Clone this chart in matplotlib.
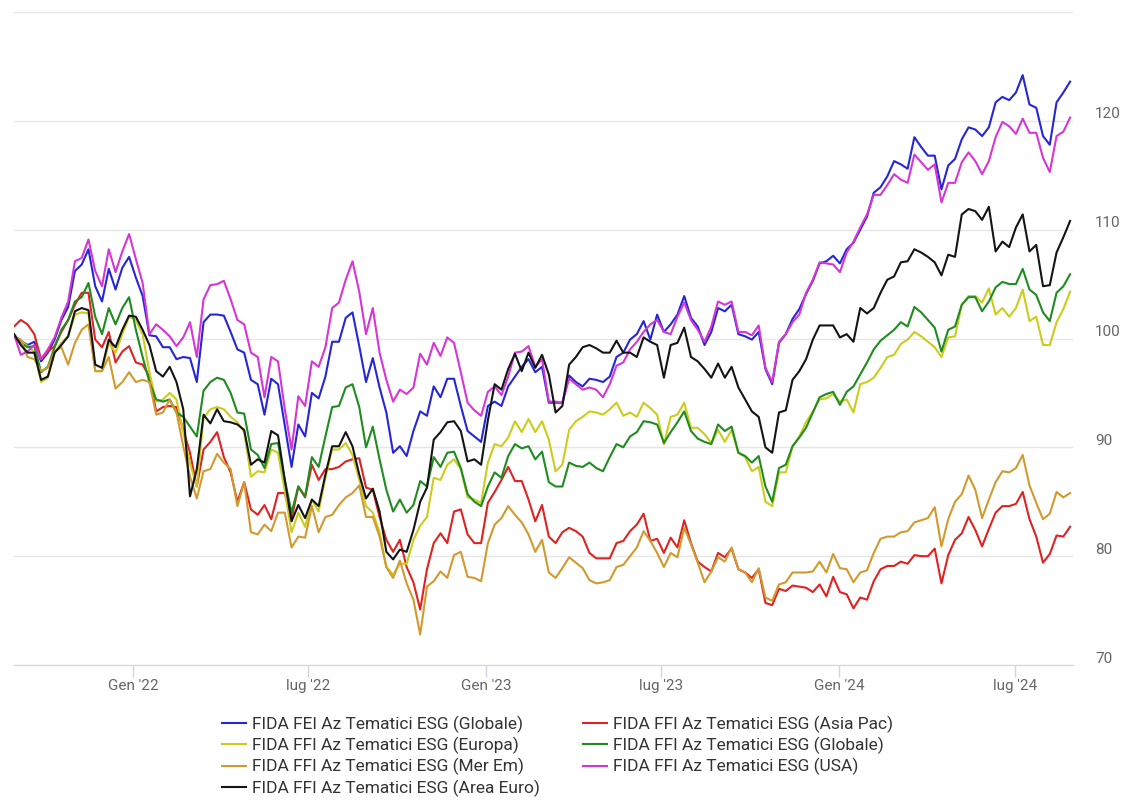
import matplotlib
matplotlib.use('Agg')
import matplotlib.pyplot as plt
import matplotlib.transforms as mtransforms
import pandas as pd

plt.rcParams['font.family'] = ['Roboto', 'DejaVu Sans']

# weekly values, base 100
dates = pd.date_range('2021-08-31', periods=157, freq='7D')

fei_globale = [
    100.2, 99.8, 99.4, 99.7, 97.9, 98.7, 99.9, 101.7, 102.9, 106.2,
    106.8, 108.2, 104.8, 103.4, 106.4, 104.5, 106.5, 107.5, 105.6, 103.9,
    100.3, 100.2, 99.2, 99.2, 98.1, 98.3, 98.2, 96.0, 101.5, 102.2,
    102.2, 102.1, 100.6, 99.0, 98.7, 96.2, 95.8, 93.0, 96.3, 95.8,
    92.0, 88.2, 92.1, 91.0, 95.0, 94.5, 96.5, 99.7, 99.7, 101.9,
    102.4, 99.3, 96.0, 98.2, 95.5, 93.2, 89.5, 90.1, 89.2, 91.5,
    93.3, 92.9, 95.6, 94.6, 96.3, 96.3, 93.8, 91.5, 91.0, 90.5,
    93.8, 94.2, 93.8, 95.6, 96.5, 97.4, 98.1, 96.9, 97.4, 94.1,
    94.1, 94.1, 96.6, 96.0, 95.6, 96.3, 96.2, 96.0, 96.5, 98.3,
    98.7, 99.9, 100.4, 101.6, 99.9, 102.2, 100.6, 101.3, 102.2, 103.9,
    101.9, 101.1, 99.4, 100.6, 102.8, 102.5, 103.1, 100.4, 100.2, 99.9,
    100.6, 97.2, 95.8, 99.6, 100.4, 101.8, 102.7, 104.1, 105.3, 106.9,
    107.1, 107.6, 106.9, 108.2, 108.8, 110.0, 111.2, 113.4, 113.9, 114.9,
    116.3, 116.0, 115.6, 118.5, 117.6, 116.8, 116.8, 113.7, 115.9, 116.5,
    118.3, 119.4, 119.2, 118.6, 119.4, 121.7, 122.2, 121.9, 122.6, 124.2,
    121.5, 121.2, 118.6, 117.8, 121.7, 122.6, 123.6,
]

asia_pac = [
    101.1, 101.7, 101.3, 100.4, 98.1, 98.8, 99.3, 100.6, 101.7, 103.1,
    104.2, 104.2, 99.9, 99.2, 100.6, 97.8, 98.8, 99.3, 97.8, 97.6,
    96.5, 93.3, 93.7, 93.8, 93.7, 91.6, 89.5, 86.4, 89.8, 90.5,
    91.4, 89.1, 87.7, 85.0, 86.8, 84.3, 83.8, 84.7, 83.4, 85.8,
    85.8, 83.4, 86.4, 85.4, 88.4, 87.0, 88.0, 88.0, 88.2, 88.7,
    88.9, 89.0, 86.3, 86.1, 83.6, 81.5, 80.4, 81.5, 79.0, 77.6,
    75.1, 78.8, 81.2, 82.1, 81.2, 84.1, 84.3, 82.0, 81.2, 81.2,
    84.9, 85.9, 87.0, 88.2, 86.9, 86.9, 85.2, 83.2, 84.7, 81.8,
    81.2, 82.2, 82.6, 82.3, 81.8, 80.3, 79.8, 79.8, 79.8, 81.2,
    81.4, 82.3, 82.9, 83.9, 81.4, 81.6, 80.3, 81.7, 80.8, 83.3,
    81.2, 79.5, 79.0, 78.6, 80.3, 79.9, 80.7, 78.8, 78.5, 78.0,
    78.8, 75.7, 75.5, 77.0, 76.8, 77.3, 77.2, 77.1, 76.7, 77.4,
    76.3, 78.1, 76.7, 76.5, 75.2, 76.2, 76.0, 77.7, 78.8, 79.1,
    79.1, 79.5, 79.3, 80.1, 80.0, 80.0, 80.7, 77.5, 80.1, 81.5,
    82.1, 83.6, 82.4, 80.9, 82.5, 84.0, 84.6, 84.6, 84.8, 85.9,
    83.4, 81.8, 79.4, 80.2, 81.9, 81.8, 82.7,
]

europa = [
    100.2, 99.8, 99.3, 98.8, 96.0, 96.4, 98.7, 99.6, 100.2, 102.2,
    102.4, 102.3, 97.0, 97.0, 99.6, 98.7, 100.4, 102.0, 101.7, 100.4,
    96.9, 94.2, 94.4, 95.0, 94.4, 91.4, 88.5, 86.4, 92.7, 93.5,
    93.7, 93.5, 92.8, 92.3, 91.4, 87.3, 87.8, 87.7, 89.8, 89.5,
    86.0, 82.2, 84.0, 82.7, 85.2, 84.1, 87.2, 89.8, 89.8, 90.4,
    89.3, 87.0, 84.6, 84.0, 82.2, 79.0, 78.3, 79.3, 79.3, 81.5,
    82.8, 83.6, 87.2, 87.0, 88.4, 88.9, 88.0, 85.4, 85.2, 84.9,
    88.6, 90.3, 90.1, 90.9, 92.4, 91.4, 92.6, 91.4, 92.4, 90.7,
    87.8, 88.4, 91.6, 92.4, 92.8, 93.3, 93.2, 93.0, 93.5, 94.1,
    92.9, 93.2, 92.8, 94.1, 93.6, 93.0, 90.3, 92.8, 93.0, 94.1,
    91.8, 91.8, 91.2, 90.4, 91.6, 90.5, 91.6, 89.5, 89.1, 87.8,
    88.2, 85.0, 84.6, 87.7, 87.7, 90.1, 91.0, 92.3, 93.3, 94.4,
    94.5, 94.9, 94.2, 94.4, 93.2, 95.8, 96.0, 96.4, 97.3, 98.3,
    98.5, 99.5, 99.9, 100.6, 100.2, 99.7, 99.2, 98.3, 100.1, 100.2,
    103.1, 103.9, 103.9, 103.3, 104.6, 102.2, 102.8, 102.0, 102.8, 104.5,
    101.6, 102.0, 99.4, 99.4, 101.5, 102.7, 104.3,
]

ffi_globale = [
    100.4, 99.6, 99.2, 99.3, 96.9, 97.4, 99.2, 100.8, 101.7, 103.4,
    103.8, 105.1, 102.0, 100.4, 102.8, 101.3, 102.8, 103.8, 100.8, 98.3,
    96.0, 94.4, 94.2, 94.4, 93.2, 92.8, 91.9, 91.0, 95.2, 96.0,
    96.4, 96.2, 95.0, 93.2, 93.1, 89.8, 89.3, 88.1, 90.3, 90.4,
    87.0, 84.0, 86.4, 85.5, 89.1, 88.2, 91.0, 93.7, 93.8, 95.5,
    95.8, 93.7, 90.0, 91.9, 88.9, 86.1, 84.1, 85.2, 84.0, 84.7,
    86.9, 86.4, 89.1, 88.2, 89.5, 89.6, 88.1, 85.7, 85.0, 84.6,
    86.4, 87.7, 87.2, 89.2, 90.3, 89.9, 90.1, 88.9, 89.6, 86.8,
    86.4, 86.4, 88.6, 88.3, 88.2, 88.6, 88.1, 87.8, 89.1, 90.3,
    90.0, 91.0, 91.4, 92.4, 92.3, 92.1, 90.4, 91.4, 92.3, 93.3,
    91.5, 90.8, 90.5, 90.3, 92.1, 91.5, 91.9, 89.5, 89.2, 88.6,
    89.2, 86.4, 85.0, 88.1, 88.4, 90.1, 90.9, 91.8, 93.2, 94.6,
    94.9, 95.1, 93.9, 95.1, 95.6, 96.7, 97.8, 99.0, 99.8, 100.3,
    100.8, 101.5, 101.1, 102.9, 102.4, 101.7, 101.0, 98.8, 100.8, 101.1,
    103.1, 103.8, 103.8, 102.5, 103.4, 104.7, 105.2, 105.0, 105.0, 106.4,
    104.5, 104.0, 102.4, 101.6, 104.2, 104.8, 105.9,
]

mer_em = [
    100.2, 99.9, 98.3, 98.1, 97.0, 97.3, 98.8, 99.2, 97.6, 99.6,
    100.8, 101.3, 97.0, 97.0, 98.3, 95.4, 96.0, 96.9, 96.0, 96.2,
    96.0, 93.0, 93.2, 94.4, 93.2, 90.1, 87.3, 85.3, 87.8, 88.0,
    89.4, 88.6, 88.0, 84.6, 86.8, 82.2, 82.0, 82.9, 82.3, 84.0,
    84.0, 80.8, 81.8, 81.7, 84.6, 82.2, 83.6, 83.8, 84.7, 85.4,
    85.8, 86.5, 83.6, 83.6, 81.8, 79.0, 78.0, 79.6, 77.5, 76.0,
    72.8, 77.2, 77.7, 78.6, 78.0, 80.1, 80.4, 78.1, 78.0, 77.7,
    81.2, 82.9, 83.5, 84.6, 83.8, 83.1, 82.0, 80.4, 81.5, 78.5,
    78.0, 78.9, 79.9, 79.4, 78.9, 77.8, 77.5, 77.6, 77.8, 79.0,
    79.2, 80.0, 80.8, 82.3, 81.4, 80.3, 79.0, 80.3, 79.9, 82.6,
    81.1, 79.4, 77.6, 78.6, 79.9, 79.5, 80.8, 78.8, 78.5, 77.6,
    78.9, 76.2, 75.9, 77.4, 77.6, 78.5, 78.5, 78.5, 78.6, 79.5,
    78.5, 80.2, 78.9, 78.8, 77.6, 78.5, 78.7, 80.3, 81.6, 81.8,
    81.8, 82.2, 82.3, 83.1, 83.3, 83.5, 84.5, 80.9, 83.4, 85.0,
    85.7, 87.4, 86.1, 83.5, 85.2, 86.8, 87.8, 87.7, 88.1, 89.3,
    86.5, 84.9, 83.4, 83.9, 85.9, 85.4, 85.8,
]

usa = [
    100.4, 98.5, 98.8, 99.4, 98.1, 99.0, 100.1, 101.9, 103.4, 107.1,
    107.4, 109.1, 106.2, 104.8, 108.2, 106.1, 108.0, 109.6, 107.3, 105.1,
    100.4, 101.3, 100.8, 100.2, 99.3, 100.1, 101.5, 98.3, 103.6, 104.9,
    105.0, 105.3, 103.6, 101.7, 101.3, 98.7, 98.3, 94.6, 98.3, 97.9,
    93.5, 89.8, 94.7, 93.8, 97.9, 97.4, 99.2, 102.8, 103.3, 105.4,
    107.1, 104.3, 100.4, 102.8, 98.7, 96.2, 94.2, 95.3, 94.9, 95.5,
    98.6, 97.6, 99.6, 98.4, 100.1, 99.6, 96.9, 94.1, 93.4, 92.9,
    95.1, 95.6, 94.8, 96.5, 98.7, 98.8, 99.3, 97.4, 98.1, 94.2,
    94.2, 94.1, 96.3, 95.8, 95.3, 95.5, 95.3, 94.6, 95.8, 97.5,
    97.8, 99.0, 99.7, 100.6, 101.3, 101.7, 100.6, 100.4, 102.0, 103.3,
    101.7, 100.8, 99.7, 101.1, 103.4, 103.1, 103.4, 100.6, 100.6, 100.3,
    101.2, 97.3, 96.0, 99.7, 100.4, 101.5, 102.2, 104.2, 105.4, 107.0,
    106.9, 106.8, 106.1, 107.9, 108.9, 110.2, 111.4, 113.2, 113.2, 114.1,
    115.1, 114.6, 114.3, 116.9, 116.2, 115.5, 116.0, 112.5, 114.3, 114.3,
    116.2, 117.1, 116.3, 115.1, 116.3, 118.5, 119.9, 119.5, 118.8, 120.2,
    118.9, 118.9, 116.6, 115.3, 118.6, 119.0, 120.3,
]

area_euro = [
    100.4, 99.4, 98.7, 98.7, 96.2, 96.5, 98.7, 99.4, 100.2, 102.5,
    102.8, 102.6, 97.6, 97.3, 99.9, 99.2, 100.8, 102.1, 102.0, 100.8,
    99.4, 97.0, 96.5, 97.4, 96.0, 93.5, 85.5, 88.0, 93.0, 92.2,
    93.5, 92.4, 92.3, 92.1, 91.6, 88.4, 88.9, 88.6, 91.5, 91.1,
    87.0, 83.2, 84.7, 83.5, 85.2, 84.6, 87.5, 90.1, 90.1, 91.4,
    90.1, 87.5, 85.3, 86.2, 84.1, 80.4, 79.7, 80.6, 80.4, 82.4,
    85.0, 86.3, 90.7, 91.4, 92.3, 92.4, 91.5, 88.7, 88.9, 88.4,
    92.5, 95.8, 95.3, 97.2, 98.6, 97.0, 98.7, 97.3, 98.5, 96.7,
    93.2, 93.8, 97.6, 98.3, 99.2, 99.4, 99.1, 98.7, 98.7, 99.8,
    98.7, 98.7, 98.3, 100.1, 99.7, 99.4, 96.4, 99.4, 99.6, 101.0,
    98.3, 97.9, 97.2, 96.4, 97.7, 96.4, 97.4, 95.5, 94.4, 93.3,
    92.8, 90.0, 89.5, 93.2, 93.4, 96.2, 97.0, 98.1, 99.9, 101.2,
    101.2, 101.2, 100.1, 100.4, 99.7, 102.8, 102.3, 102.8, 104.2, 105.4,
    105.7, 107.0, 107.1, 108.2, 107.9, 107.5, 107.0, 105.8, 107.7, 107.5,
    111.4, 111.9, 111.7, 110.9, 112.1, 108.0, 108.9, 108.4, 110.2, 111.4,
    108.0, 108.6, 104.8, 104.9, 107.9, 109.3, 110.8,
]

series = [
    ('FIDA FEI Az Tematici ESG (Globale)', fei_globale, '#2626d6'),
    ('FIDA FFI Az Tematici ESG (Asia Pac)', asia_pac, '#de2323'),
    ('FIDA FFI Az Tematici ESG (Europa)', europa, '#cccc1c'),
    ('FIDA FFI Az Tematici ESG (Globale)', ffi_globale, '#1f8c1f'),
    ('FIDA FFI Az Tematici ESG (Mer Em)', mer_em, '#d29a2e'),
    ('FIDA FFI Az Tematici ESG (USA)', usa, '#d536d5'),
    ('FIDA FFI Az Tematici ESG (Area Euro)', area_euro, '#141414'),
]

tick_dates = pd.to_datetime(['2022-01-01', '2022-07-01', '2023-01-01',
                             '2023-07-01', '2024-01-01', '2024-07-01'])
tick_labels = ["Gen '22", "lug '22", "Gen '23", "lug '23", "Gen '24", "lug '24"]

fig = plt.figure(figsize=(11.4, 8.01), dpi=100)
ax = fig.add_axes([14 / 1140, 1 - 665 / 801, (1073 - 14) / 1140, (665 - 12) / 801])

handles = []
for name, vals, col in series:
    ln, = ax.plot(dates, vals, color=col, lw=1.5, label=name)
    handles.append(ln)

ax.set_ylim(70, 130)
ax.set_xlim(dates[0], dates[-1] + pd.Timedelta(days=3))
ax.set_yticks(range(70, 131, 10))
ax.set_yticklabels([str(v) for v in range(70, 121, 10)] + [''])
ax.yaxis.tick_right()
ax.grid(axis='y', color='#e6e6e6', lw=1)
ax.set_axisbelow(True)
for s in ['top', 'left', 'right']:
    ax.spines[s].set_visible(False)
ax.spines['bottom'].set_color('#ccd6eb')

ax.set_xticks(tick_dates)
ax.set_xticklabels(tick_labels)
ax.tick_params(axis='x', length=8.5, width=1, color='#ccd6eb', pad=1.5,
               labelsize=11, labelcolor='#666666')
ax.tick_params(axis='y', length=0, pad=16, labelsize=11, labelcolor='#666666')
off = mtransforms.ScaledTranslation(0, 0.08, fig.dpi_scale_trans)
for lab in ax.get_yticklabels():
    lab.set_transform(lab.get_transform() + off)

# legend laid out in two columns, row by row like the original
col1 = [handles[0], handles[2], handles[4], handles[6]]
col2 = [handles[1], handles[3], handles[5]]
for hs, x0 in [(col1, 222), (col2, 583)]:
    leg = fig.legend(handles=hs, loc='upper left',
                     bbox_to_anchor=(x0 / 1140, 1 - 716 / 801),
                     frameon=False, fontsize=12.5, handlelength=1.4,
                     handletextpad=0.3, labelspacing=0.22,
                     borderpad=0, borderaxespad=0)
    for t in leg.get_texts():
        t.set_color('#333333')

fig.savefig('out.png', dpi=100)
